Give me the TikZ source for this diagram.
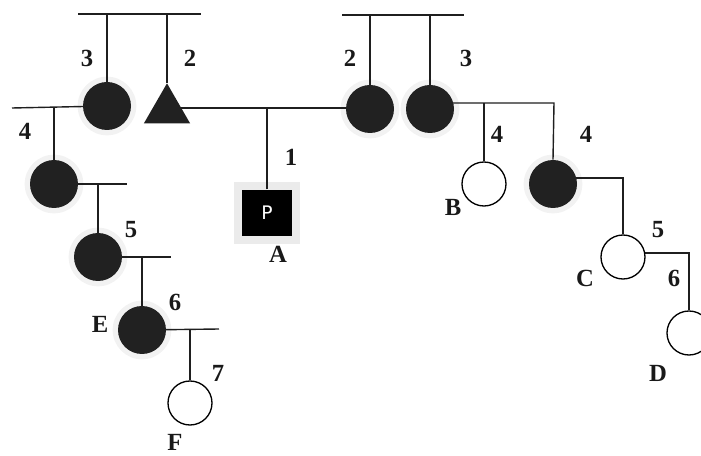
\documentclass[tikz,border=0pt]{standalone}
\usepackage{fontspec}
\setmainfont{Liberation Serif}
\newfontfamily\psans{DejaVu Sans}
\usetikzlibrary{shapes.geometric}
\pgfdeclarelayer{halo}
\pgfdeclarelayer{bg}
\pgfsetlayers{halo,bg,main}
\begin{document}
\begin{tikzpicture}[x=0.75pt,y=-0.75pt,
  ln/.style={line width=1.05pt, draw=black!88},
  aff/.style={circle, fill=black!87, inner sep=0pt, minimum size=36pt},
  unaff/.style={circle, draw=black, line width=1pt, fill=white, inner sep=0pt, minimum size=33pt},
  halo/.style={circle, fill=black!5, inner sep=0pt, minimum size=44pt},
  lab/.style={font=\fontsize{18.5}{20}\selectfont\bfseries, inner sep=0pt, text=black!90}]
\useasboundingbox (0,0) rectangle (701,456);

% individuals
\node[aff] (g3a) at (107,106) {};
\node[regular polygon, regular polygon sides=3, fill=black!87, inner sep=0pt, minimum size=40pt] (tri) at (167,110) {};
\node[aff] (g3b) at (370,109) {};
\node[aff] (g3c) at (430,109) {};
\node[rectangle, fill=black, minimum width=37.5pt, minimum height=35pt, inner sep=0pt, text=white, font=\psans\fontsize{14}{16}\selectfont] (A) at (267,213) {P};
\node[aff] (g4a) at (54,184) {};
\node[unaff] (B) at (484,184) {};
\node[aff] (g4c) at (553,184) {};
\node[aff] (g5a) at (98,257) {};
\node[unaff] (C) at (623,257) {};
\node[unaff] (D) at (689,333) {};
\node[aff] (E) at (142,330) {};
\node[unaff] (F) at (190,403) {};

% halos
\begin{pgfonlayer}{halo}
  \node[halo] (h1) at (g3a) {};
  \node[halo] (h2) at (g3b) {};
  \node[halo] (h3) at (g3c) {};
  \node[halo] (h4) at (g4a) {};
  \node[halo] (h5) at (g4c) {};
  \node[halo] (h6) at (g5a) {};
  \node[halo] (h7) at (E) {};
  \node[rectangle, fill=black!8, minimum width=49pt, minimum height=46pt] (h8) at (A) {};
\end{pgfonlayer}

% coordinates
\coordinate (b1l) at (78,14);
\coordinate (b1r) at (201,14);
\coordinate (b2l) at (342,15);
\coordinate (b2r) at (464,15);
\coordinate (l1) at (12,108);
\coordinate (j1) at (554,103);
\coordinate (j2) at (623,178);
\coordinate (j3) at (689,253);
\coordinate (j4) at (127,184);
\coordinate (j5) at (171,257);
\coordinate (j6) at (219,329);

% connectors
\begin{pgfonlayer}{bg}
  \draw[ln] (b1l) -- (b1r);
  \draw[ln] (b2l) -- (b2r);
  \draw[ln] (g3a.north) -- (g3a |- b1l);
  \draw[ln] (tri.corner 1) -- (tri.corner 1 |- b1l);
  \draw[ln] (g3b.north) -- (g3b |- b2l);
  \draw[ln] (g3c.north) -- (g3c |- b2l);
  \draw[ln] (l1) -- (g3a.center);
  \draw[ln] (tri.center |- l1) -- (g3b.center |- l1);
  \draw[ln] (A.north) -- (A |- l1);
  \draw[ln] (g4a.north) -- (g4a |- l1);
  \draw[ln] (g3c |- j1) -- (j1) -- (g4c.north);
  \draw[ln] (B.north) -- (B |- j1);
  \draw[ln] (g4c |- j2) -- (j2) -- (C.north);
  \draw[ln] (C |- j3) -- (j3) -- (D.north);
  \draw[ln] (g4a.center) -- (j4);
  \draw[ln] (g5a.north) -- (g5a |- j4);
  \draw[ln] (g5a.center) -- (j5);
  \draw[ln] (E.north) -- (E |- j5);
  \draw[ln] (E.center) -- (j6);
  \draw[ln] (F.north) -- (F |- j6);
\end{pgfonlayer}

% labels
\node[lab] (t1) at (87,58) {3};
\node[lab] (t2) at (190,58) {2};
\node[lab] (t3) at (350,58) {2};
\node[lab] (t4) at (466,58) {3};
\node[lab] (t5) at (25,131) {4};
\node[lab] (t6) at (291,157) {1};
\node[lab] (t7) at (278,254) {A};
\node[lab] (t8) at (497,134) {4};
\node[lab] (t9) at (586,134) {4};
\node[lab] (t10) at (453,207) {B};
\node[lab] (t11) at (131,230) {5};
\node[lab] (t12) at (175,302) {6};
\node[lab] (t13) at (100,324) {E};
\node[lab] (t14) at (218,373) {7};
\node[lab] (t15) at (175,442) {F};
\node[lab] (t16) at (658,230) {5};
\node[lab] (t17) at (585,278) {C};
\node[lab] (t18) at (674,278) {6};
\node[lab] (t19) at (658,373) {D};
\end{tikzpicture}
\end{document}
